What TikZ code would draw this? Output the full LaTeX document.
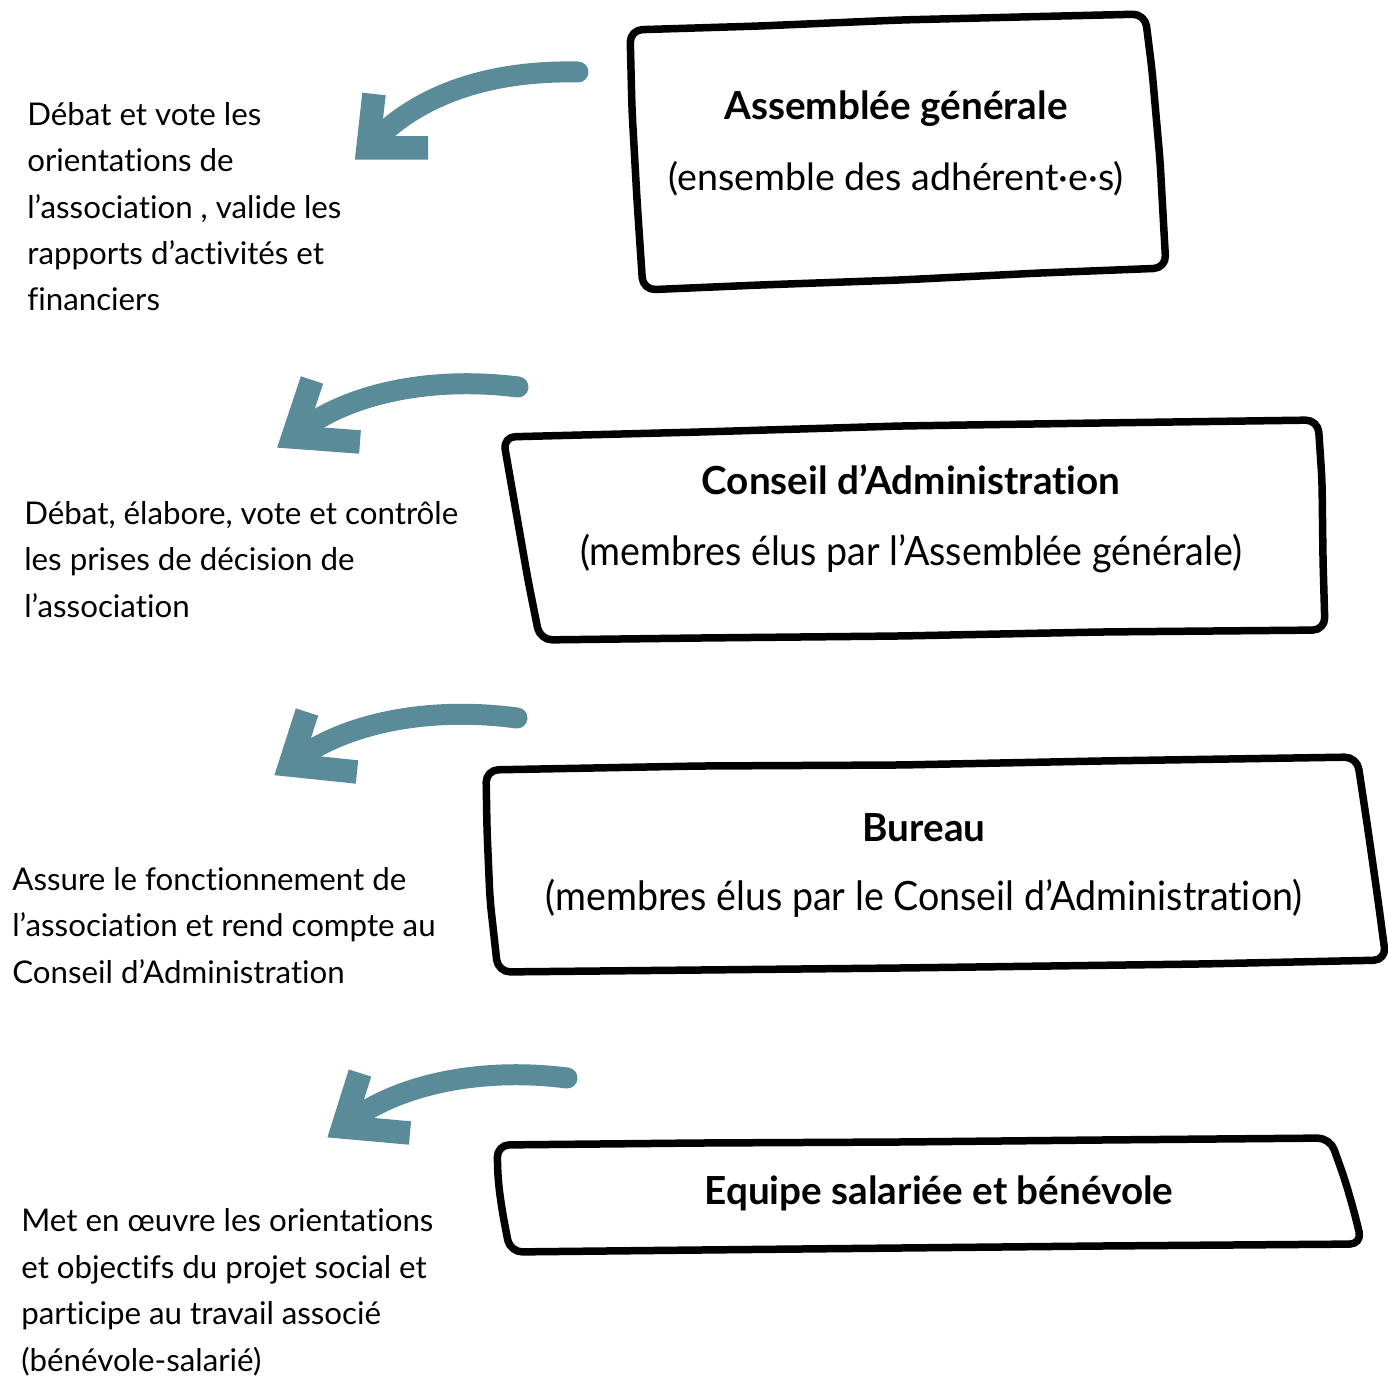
\documentclass[tikz,border=0pt]{standalone}
\usepackage{fontspec}
\setmainfont{Lato}[Ligatures=NoCommon]
\newfontfamily\narrowfont[FakeStretch=0.93,Ligatures=NoCommon]{Lato}
\usepackage{tikz}
\usetikzlibrary{calc}
\definecolor{brushc}{HTML}{5A8B98}
\tikzset{
  brush/.style={brushc,line width=0.42cm,line cap=round,line join=round},
  brushhead/.style={brushc,line width=0.47cm,line cap=butt,line join=miter},
  frame/.style={black,line width=0.15cm,rounded corners=7pt,line join=round},
  desc/.style={anchor=base west,align=left,inner sep=0pt,font=\fontsize{17.8}{26.4}\selectfont},
  ttl/.style={anchor=base,inner sep=0pt,font=\fontsize{22}{26}\selectfont\bfseries},
  sub/.style={anchor=base,inner sep=0pt,font=\fontsize{21.4}{26}\selectfont},
  nttl/.style={anchor=base,inner sep=0pt,font=\fontsize{22}{26}\selectfont\bfseries},
  nsub/.style={anchor=base,inner sep=0pt,font=\fontsize{23}{26}\narrowfont}
}
\begin{document}
\begin{tikzpicture}[x=0.02cm,y=-0.02cm]
\useasboundingbox (0,0) rectangle (1388,1378);
\foreach \n/\hx/\hy/\tx/\ty/\ax/\ay/\bx/\by/\ux/\uy/\rx/\ry in {
  1/368/148/210/-76/112/-78/42/-48/6/-54/60/0,
  2/293/437/225/-50/130/-62/45/-40/19/-57/67/5,
  3/290/765/227/-47/130/-60/45/-38/17/-53/67/7,
  4/343/1127/224/-49/130/-61/45/-39/17/-54/67/6}{
 \coordinate (tip\n) at (\hx,\hy);
 \coordinate (tail\n) at ($(tip\n)+(\tx,\ty)$);
 \draw[brush] (tail\n) .. controls ($(tip\n)+(\ax,\ay)$) and ($(tip\n)+(\bx,\by)$) .. (tip\n);
 \draw[brushhead] ($(tip\n)+(\ux,\uy)$) -- (tip\n) -- ($(tip\n)+(\rx,\ry)$);}
\draw[frame] (630,30) -- (760,26) -- (900,20) -- (1020,17) -- (1145,14) -- (1152,70) -- (1160,160) -- (1166,268)
 -- (1040,273) -- (900,280) -- (760,285) -- (643,290) -- (637,200) -- (632,110) -- cycle;
\draw[frame] (503,437) -- (700,432) -- (900,426) -- (1100,423) -- (1318,420) -- (1322,480) -- (1323,560) -- (1325,630)
 -- (1100,632) -- (900,636) -- (700,638) -- (540,640) -- (528,580) -- (514,500) -- cycle;
\draw[frame] (486,770) -- (700,766) -- (900,765) -- (1100,761) -- (1357,757) -- (1368,830) -- (1378,900) -- (1386,960)
 -- (1200,964) -- (900,968) -- (700,970) -- (498,972) -- (490,900) -- (487,830) -- cycle;
\draw[frame] (497,1145) -- (700,1143) -- (900,1142) -- (1100,1140) -- (1330,1138) -- (1345,1180) -- (1355,1215) -- (1362,1244)
 -- (1100,1246) -- (900,1248) -- (700,1250) -- (510,1252) -- (502,1210) -- (498,1180) -- cycle;
\node[ttl] (ag) at (896,120) {Assemblée générale};
\node[sub] (agsub) at (896,191) {(ensemble des adhérent·e·s)};
\node[nttl] (ca) at (911,494) {Conseil d’Administration};
\node[nsub] (casub) at (911,565) {(membres élus par l’Assemblée générale)};
\node[nttl] (bu) at (924,841) {Bureau};
\node[nsub] (busub) at (924,910) {(membres élus par le Conseil d’Administration)};
\node[nttl] (eq) at (939,1204) {Equipe salariée et bénévole};
\node[desc] (t1) at (27,311) {Débat et vote les\\orientations de\\l’association , valide les\\rapports d’activités et\\financiers};
\node[desc] (t2) at (24,617) {Débat, élabore, vote et contrôle\\les prises de décision de\\l’association};
\node[desc] (t3) at (12,983) {Assure le fonctionnement de\\l’association et rend compte au\\Conseil d’Administration};
\node[desc] (t4) at (21,1371) {Met en œuvre les orientations\\et objectifs du projet social et\\participe au travail associé\\(bénévole-salarié)};
\end{tikzpicture}
\end{document}
